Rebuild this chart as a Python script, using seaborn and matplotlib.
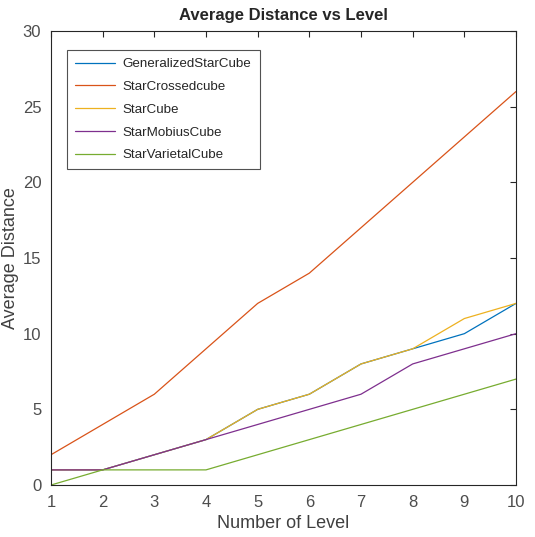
import pandas as pd
import matplotlib.pyplot as plt
import seaborn as sns

levels = [1, 2, 3, 4, 5, 6, 7, 8, 9, 10]
generalized_star_cube = [1, 1, 2, 3, 5, 6, 8, 9, 10, 12]
star_crossed_cube = [2, 4, 6, 9, 12, 14, 17, 20, 23, 26]
star_cube = [1, 1, 2, 3, 5, 6, 8, 9, 11, 12]
star_mobius_cube = [1, 1, 2, 3, 4, 5, 6, 8, 9, 10]
star_varietal_cube = [0, 1, 1, 1, 2, 3, 4, 5, 6, 7]

names = ["GeneralizedStarCube", "StarCrossedcube", "StarCube", "StarMobiusCube", "StarVarietalCube"]
series = [generalized_star_cube, star_crossed_cube, star_cube, star_mobius_cube, star_varietal_cube]
colors = ["#0072BD", "#D95319", "#EDB120", "#7E2F8E", "#77AC30"]

rows = []
for name, vals in zip(names, series):
    for lv, v in zip(levels, vals):
        rows.append({"Level": lv, "Distance": v, "Network": name})
df = pd.DataFrame(rows)

sns.set_style("white")
plt.rcParams["font.family"] = ["Liberation Sans", "DejaVu Sans"]

fig = plt.figure(figsize=(5.35, 5.37), dpi=100)
ax = fig.add_axes([0.0953, 0.0968, 0.8692, 0.8455])

sns.lineplot(data=df, x="Level", y="Distance", hue="Network", hue_order=names,
             palette=colors, linewidth=0.9, ax=ax)

ax.set_xlim(1, 10)
ax.set_ylim(0, 30)
ax.set_xticks(levels)
ax.set_yticks([0, 5, 10, 15, 20, 25, 30])
ax.tick_params(direction="in", top=True, right=True, length=4, width=0.8,
               labelsize=12, colors="#262626", labelcolor="#4d4d4d", pad=7)
for s in ax.spines.values():
    s.set_color("#262626")
    s.set_linewidth(0.8)

ax.set_title("Average Distance vs Level", fontsize=12, fontweight="bold", pad=8)
ax.set_xlabel("Number of Level", fontsize=13, color="#404040", labelpad=4)
ax.set_ylabel("Average Distance", fontsize=13, color="#404040")
ax.yaxis.set_label_coords(-0.068, 0.5)

leg = ax.legend(loc="upper left", bbox_to_anchor=(0.034, 0.958), borderaxespad=0,
                fontsize=9.6, frameon=True, fancybox=False, edgecolor="#262626",
                handlelength=3.0, handletextpad=0.6, borderpad=0.6, labelspacing=0.78)
leg.get_frame().set_linewidth(0.8)

fig.savefig("out.png", dpi=100)
